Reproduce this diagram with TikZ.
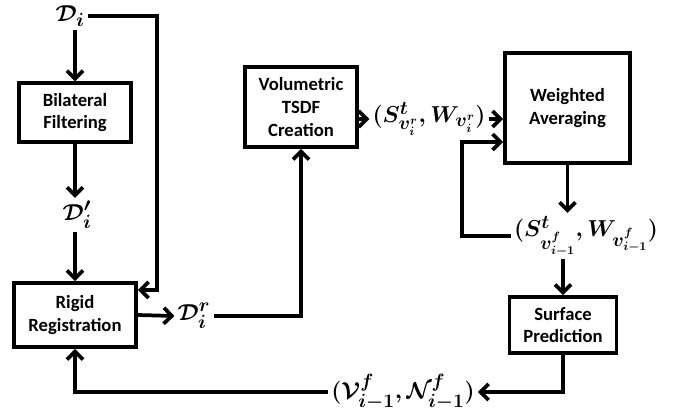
\documentclass[tikz,border=0pt]{standalone}
\usepackage{amsmath}
\usepackage{fontspec}
\newfontfamily\boxfont{Carlito}
\usetikzlibrary{arrows.meta}

\begin{document}
\begin{tikzpicture}[x=0.75pt, y=-0.75pt, >={Straight Barb[length=6pt,width=12pt]}, line width=2.8pt,
    blok/.style={draw, line width=2.8pt, align=center, inner sep=2pt,
        font=\boxfont\bfseries\fontsize{14}{17}\selectfont},
    nhan/.style={font=\boldmath\fontsize{19}{22}\selectfont, inner sep=1pt}]
    \useasboundingbox (0,0) rectangle (673,413);

    % Khối xử lý
    \node[blok, minimum width=84pt, minimum height=44pt] (bil) at (75,112.5) {Bilateral\\Filtering};
    \node[blok, minimum width=91.5pt, minimum height=48pt] (rig) at (75,315) {Rigid\\Registration};
    \node[blok, minimum width=84pt, minimum height=60pt] (vol) at (301,107) {Volumetric\\TSDF\\Creation};
    \node[blok, minimum width=93.75pt, minimum height=82.5pt] (wav) at (567.5,108) {Weighted\\Averaging};
    \node[blok, minimum width=80.25pt, minimum height=42pt] (sur) at (563,325) {Surface\\Prediction};

    % Nhãn dữ liệu
    \node[nhan] (Di) at (70,16) {$\mathcal{D}_i$};
    \node[nhan] (Dp) at (77,215) {$\mathcal{D}'_i$};
    \node[nhan] (Dr) at (194,316) {$\mathcal{D}^r_i$};
    \node[nhan] (Stv) at (429,119) {$(S^t_{v^r_i},W_{v^r_i})$};
    \node[nhan] (Sf) at (586,236) {$(S^t_{v^f_{i-1}},W_{v^f_{i-1}})$};
    \node[nhan] (VN) at (403,392) {$(\mathcal{V}^f_{i-1},\mathcal{N}^f_{i-1})$};

    % Mũi tên
    \coordinate (re) at (157,290);
    \coordinate (fb) at (462,142);
    \draw[->] (bil.north |- Di.south) -- (bil.north);
    \draw[->] (Di.east) -| (re) -- (re -| rig.east);
    \draw[->] (bil.south) -- (bil.south |- Dp.north);
    \draw[->] (Dp.south -| rig.north) -- (rig.north);
    \draw[->] (rig.east) -- (Dr.west);
    \draw[->] (Dr.east) -| (vol.south);
    \draw[->] (vol.east |- Stv.west) -- (Stv.west);
    \draw[->] (Stv.east) -- (Stv.east -| wav.west);
    \draw[->] (wav.south) -- (wav.south |- Sf.north);
    \draw[->] (Sf.west) -| (fb) -- (fb -| wav.west);
    \draw[->] (Sf.south -| sur.north) -- (sur.north);
    \draw[->] (sur.south) |- (VN.east);
    \draw[->] (VN.west) -| (rig.south);

\end{tikzpicture}
\end{document}
